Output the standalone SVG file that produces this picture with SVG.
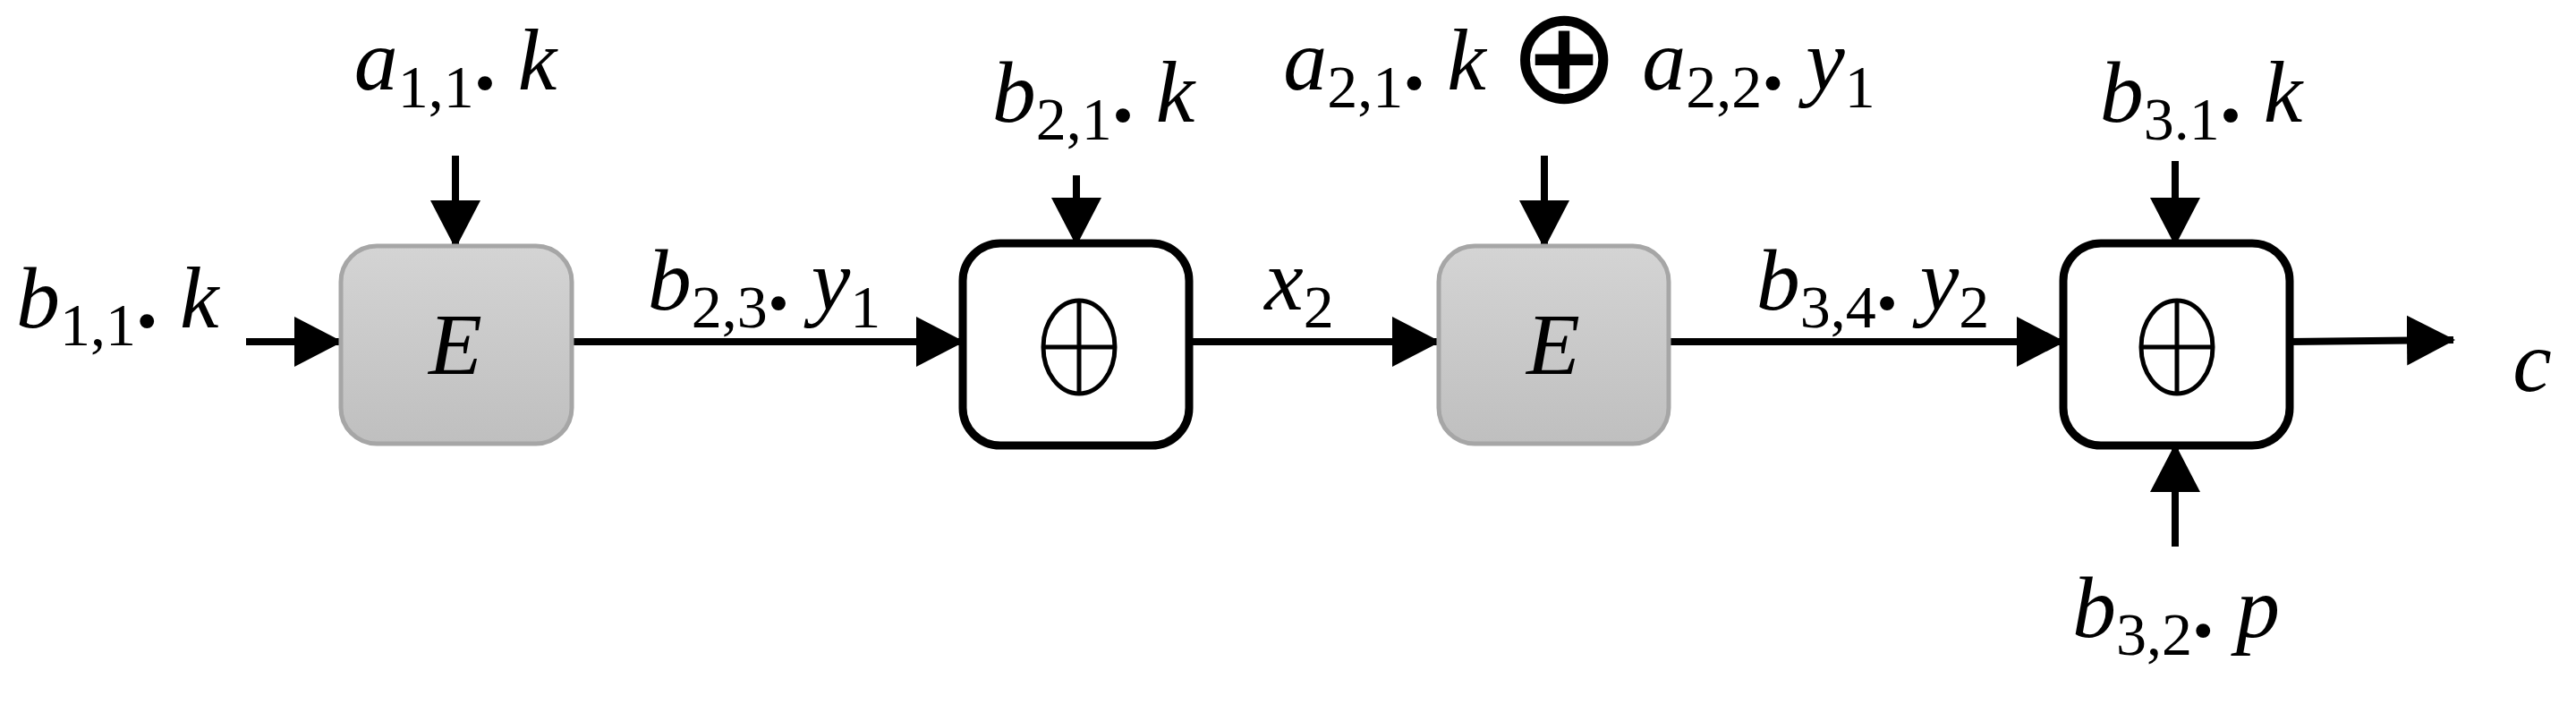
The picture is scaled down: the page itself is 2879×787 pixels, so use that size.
<svg xmlns="http://www.w3.org/2000/svg" width="2879" height="787" viewBox="0 0 2879 787">
<style>
.t{font-family:"Liberation Serif","DejaVu Serif",serif;font-style:italic;font-size:98px;fill:#000}
.s{font-style:normal;font-size:68px}
.d{font-style:normal;font-weight:bold}
.x{font-family:"DejaVu Sans",sans-serif;font-style:normal;font-weight:normal;font-size:150px}
.c{stroke:#000;stroke-width:8;fill:none;marker-end:url(#a)}
.e{fill:url(#g);stroke:#a6a6a6;stroke-width:5}
.o{fill:#fff;stroke:#000;stroke-width:9}
.p{fill:none;stroke:#000;stroke-width:5}
</style>
<defs>
<linearGradient id="g" x1="0" y1="0" x2="0" y2="1"><stop offset="0" stop-color="#d4d4d4"/><stop offset="1" stop-color="#bfbfbf"/></linearGradient>
<marker id="a" markerUnits="userSpaceOnUse" markerWidth="56" markerHeight="60" refX="52" refY="30" orient="auto"><path d="M0,2 L54,30 L0,58 Z" fill="#000"/></marker>
</defs>
<g id="connectors">
<line class="c" x1="275" y1="382" x2="381" y2="382"/>
<line class="c" x1="639" y1="382" x2="1076" y2="382"/>
<line class="c" x1="1329" y1="382" x2="1608" y2="382"/>
<line class="c" x1="1865" y1="382" x2="2306" y2="382"/>
<line class="c" x1="2559" y1="382" x2="2742" y2="380"/>
<line class="c" x1="509" y1="174" x2="509" y2="276"/>
<line class="c" x1="1203" y1="196" x2="1203" y2="273"/>
<line class="c" x1="1726" y1="174" x2="1726" y2="276"/>
<line class="c" x1="2431" y1="180" x2="2431" y2="273"/>
<line class="c" x1="2431" y1="611" x2="2431" y2="498"/>
</g>
<g id="E1"><rect class="e" x="381" y="275" width="258" height="221" rx="40"/><text class="t" x="509" y="418" text-anchor="middle">E</text></g>
<g id="X1"><rect class="o" x="1076" y="272" width="253" height="226" rx="42"/><ellipse class="p" cx="1206" cy="388" rx="40" ry="52"/><path class="p" d="M1206,336V440M1166,388H1246"/></g>
<g id="E2"><rect class="e" x="1608" y="275" width="257" height="221" rx="40"/><text class="t" x="1736" y="418" text-anchor="middle">E</text></g>
<g id="X2"><rect class="o" x="2306" y="272" width="253" height="226" rx="42"/><ellipse class="p" cx="2433" cy="388" rx="40" ry="52"/><path class="p" d="M2433,336V440M2393,388H2473"/></g>
<g id="labels">
<text class="t" x="18" y="366">b<tspan class="s" dy="20">1,1</tspan><tspan dy="-20" class="d">. </tspan>k</text>
<text class="t" x="509" y="100" text-anchor="middle">a<tspan class="s" dy="20">1,1</tspan><tspan dy="-20" class="d">. </tspan>k</text>
<text class="t" x="1222" y="136" text-anchor="middle">b<tspan class="s" dy="20">2,1</tspan><tspan dy="-20" class="d">. </tspan>k</text>
<text class="t" x="1765" y="100" text-anchor="middle">a<tspan class="s" dy="20">2,1</tspan><tspan dy="-20" class="d">. </tspan>k <tspan class="x" dy="14">⊕</tspan> <tspan dy="-14">a</tspan><tspan class="s" dy="20">2,2</tspan><tspan dy="-20" class="d">. </tspan>y<tspan class="s" dy="20">1</tspan></text>
<text class="t" x="2460" y="136" text-anchor="middle">b<tspan class="s" dy="20">3.1</tspan><tspan dy="-20" class="d">. </tspan>k</text>
<text class="t" x="854" y="346" text-anchor="middle">b<tspan class="s" dy="20">2,3</tspan><tspan dy="-20" class="d">. </tspan>y<tspan class="s" dy="20">1</tspan></text>
<text class="t" x="1452" y="346" text-anchor="middle">x<tspan class="s" dy="20">2</tspan></text>
<text class="t" x="2093" y="346" text-anchor="middle">b<tspan class="s" dy="20">3,4</tspan><tspan dy="-20" class="d">. </tspan>y<tspan class="s" dy="20">2</tspan></text>
<text class="t" x="2432" y="712" text-anchor="middle">b<tspan class="s" dy="20">3,2</tspan><tspan dy="-20" class="d">. </tspan>p</text>
<text class="t" x="2830" y="437" text-anchor="middle">c</text>
</g>
</svg>
